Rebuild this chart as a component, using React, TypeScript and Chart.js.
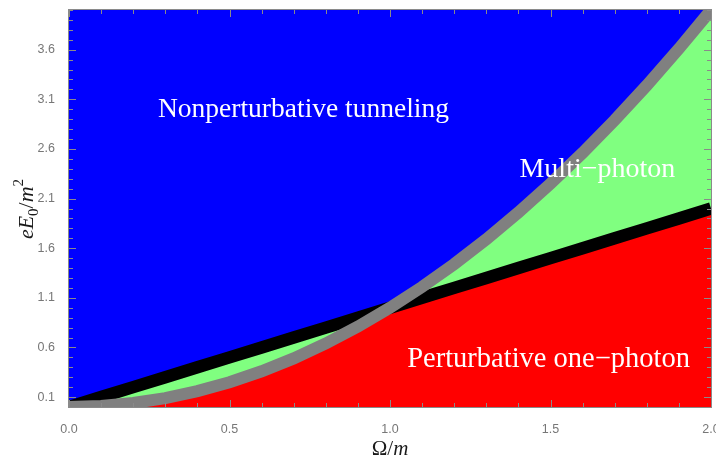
import React, { useEffect, useRef } from 'react';
import { Chart, registerables } from 'chart.js';

Chart.register(...registerables);

// Ω/m sample positions
const omegaValues = [0, 0.1, 0.2, 0.3, 0.4, 0.5, 0.6, 0.7, 0.8, 0.9, 1.0, 1.1, 1.2, 1.3, 1.4, 1.5, 1.6, 1.7, 1.8, 1.9, 2.0];
// one-photon threshold boundary (black band)
const onePhotonBoundary = [0, 0.1, 0.2, 0.3, 0.4, 0.5, 0.6, 0.7, 0.8, 0.9, 1.0, 1.1, 1.2, 1.3, 1.4, 1.5, 1.6, 1.7, 1.8, 1.9, 2.0];
// tunneling / multi-photon boundary (gray curve)
const tunnelingBoundary = [0, 0.01, 0.04, 0.09, 0.16, 0.25, 0.36, 0.49, 0.64, 0.81, 1.0, 1.21, 1.44, 1.69, 1.96, 2.25, 2.56, 2.89, 3.24, 3.61, 4.0];

const xTickValues = [0, 0.5, 1.0, 1.5, 2.0];
const xTickLabels = ['0.0', '0.5', '1.0', '1.5', '2.0'];
const yTickValues = [0.1, 0.6, 1.1, 1.6, 2.1, 2.6, 3.1, 3.6];
const yTickLabels = ['0.1', '0.6', '1.1', '1.6', '2.1', '2.6', '3.1', '3.6'];

const regionNames = ['Nonperturbative tunneling', 'Multi\u2212photon', 'Perturbative one\u2212photon'];
const regionAnchorX = [0.7305, 1.646, 1.494];
const regionAnchorY = [2.917, 2.317, 0.408];
const regionFontSizes = [27.5, 28, 28.5];

const lowerEdge = omegaValues.map((x, i) => ({ x, y: Math.min(onePhotonBoundary[i], tunnelingBoundary[i]) }));
const upperEdge = omegaValues.map((x, i) => ({ x, y: Math.max(onePhotonBoundary[i], tunnelingBoundary[i]) }));
const blackPts = omegaValues.map((x, i) => ({ x, y: onePhotonBoundary[i] }));
const grayPts = omegaValues.map((x, i) => ({ x, y: tunnelingBoundary[i] }));

type Piece = { t: string; font: string; dy?: number };

function drawPieces(ctx: CanvasRenderingContext2D, pieces: Piece[], cx: number, by: number) {
  let total = 0;
  const widths = pieces.map((p) => {
    ctx.font = p.font;
    const w = ctx.measureText(p.t).width;
    total += w;
    return w;
  });
  let x = cx - total / 2;
  ctx.textAlign = 'left';
  ctx.textBaseline = 'alphabetic';
  pieces.forEach((p, i) => {
    ctx.font = p.font;
    ctx.fillText(p.t, x, by + (p.dy || 0));
    x += widths[i];
  });
}

const decorPlugin = {
  id: 'decor',
  beforeDatasetsDraw(chart: any) {
    const { ctx, chartArea } = chart;
    ctx.save();
    ctx.fillStyle = '#0000ff';
    ctx.fillRect(chartArea.left, chartArea.top, chartArea.right - chartArea.left, chartArea.bottom - chartArea.top);
    ctx.restore();
  },
  afterDatasetsDraw(chart: any) {
    const { ctx, chartArea, scales } = chart;
    const xs = scales.x;
    const ys = scales.y;
    ctx.save();
    // region labels
    ctx.fillStyle = '#ffffff';
    ctx.textAlign = 'center';
    ctx.textBaseline = 'alphabetic';
    regionNames.forEach((name, i) => {
      ctx.font = regionFontSizes[i] + 'px "Liberation Serif"';
      ctx.fillText(name, xs.getPixelForValue(regionAnchorX[i]), ys.getPixelForValue(regionAnchorY[i]));
    });

    // frame
    const { left, right, top, bottom } = chartArea;
    ctx.strokeStyle = '#8a8a8a';
    ctx.lineWidth = 1;
    ctx.strokeRect(left - 0.5, top - 0.5, right - left + 1, bottom - top + 1);

    // inward ticks
    ctx.beginPath();
    for (let i = 0; i <= 20; i++) {
      const v = i * 0.1;
      const px = Math.round(xs.getPixelForValue(v)) + 0.5;
      const len = i % 5 === 0 ? 7 : 4;
      ctx.moveTo(px, bottom);
      ctx.lineTo(px, bottom - len);
      ctx.moveTo(px, top);
      ctx.lineTo(px, top + len);
    }
    for (let j = 0; j <= 40; j++) {
      const v = j * 0.1;
      const py = Math.round(ys.getPixelForValue(v)) + 0.5;
      const len = (j - 1) % 5 === 0 ? 7 : 4;
      ctx.moveTo(left, py);
      ctx.lineTo(left + len, py);
      ctx.moveTo(right, py);
      ctx.lineTo(right - len, py);
    }
    ctx.stroke();

    // axis titles
    ctx.fillStyle = '#1a1a1a';
    drawPieces(
      ctx,
      [
        { t: '\u03A9', font: '21px "Liberation Serif"' },
        { t: '/', font: '21px "Liberation Serif"' },
        { t: 'm', font: 'italic 21px "Liberation Serif"' },
      ],
      (left + right) / 2,
      455
    );
    ctx.save();
    ctx.translate(33, 209);
    ctx.rotate(-Math.PI / 2);
    drawPieces(
      ctx,
      [
        { t: 'e', font: 'italic 22px "Liberation Serif"' },
        { t: 'E', font: 'italic 22px "Liberation Serif"' },
        { t: '0', font: '15px "Liberation Serif"', dy: 5 },
        { t: '/', font: '22px "Liberation Serif"' },
        { t: 'm', font: 'italic 22px "Liberation Serif"' },
        { t: '2', font: '15px "Liberation Serif"', dy: -10 },
      ],
      0,
      0
    );
    ctx.restore();
    ctx.restore();
  },
};

export default function App() {
  const canvasRef = useRef<HTMLCanvasElement | null>(null);

  useEffect(() => {
    const canvas = canvasRef.current;
    if (!canvas) return;
    const tickFont = { family: '"Liberation Sans", Arial, sans-serif', size: 12.5 };
    const chart = new Chart(canvas, {
      type: 'line',
      data: {
        datasets: [
          {
            label: 'tunneling boundary',
            data: grayPts,
            borderColor: '#808080',
            borderWidth: 12,
            pointRadius: 0,
            fill: false,
            borderCapStyle: 'butt',
          },
          {
            label: 'one-photon boundary',
            data: blackPts,
            borderColor: '#000000',
            borderWidth: 12.5,
            pointRadius: 0,
            fill: false,
            borderCapStyle: 'butt',
          },
          {
            label: 'multi-photon',
            data: upperEdge,
            borderWidth: 0,
            borderColor: 'rgba(0,0,0,0)',
            backgroundColor: '#80ff80',
            pointRadius: 0,
            fill: 3,
          },
          {
            label: 'perturbative',
            data: lowerEdge,
            borderWidth: 0,
            borderColor: 'rgba(0,0,0,0)',
            backgroundColor: '#ff0000',
            pointRadius: 0,
            fill: 'start',
          },
        ],
      },
      options: {
        responsive: false,
        animation: false,
        events: [],
        layout: { padding: { top: 10, right: 5, left: 0, bottom: 0 } },
        plugins: {
          legend: { display: false },
          tooltip: { enabled: false },
          title: { display: false },
        },
        scales: {
          x: {
            type: 'linear',
            min: 0,
            max: 2,
            grid: { display: false },
            border: { display: false },
            afterBuildTicks: (s: any) => {
              s.ticks = xTickValues.map((v) => ({ value: v }));
            },
            afterFit: (s: any) => {
              s.height = 52;
              s.paddingLeft = 0;
              s.paddingRight = 0;
            },
            ticks: {
              padding: 7,
              color: '#777777',
              font: tickFont,
              maxRotation: 0,
              autoSkip: false,
              callback: (_v: any, i: number) => xTickLabels[i],
            },
          },
          y: {
            type: 'linear',
            min: 0,
            max: 4,
            grid: { display: false },
            border: { display: false },
            afterBuildTicks: (s: any) => {
              s.ticks = yTickValues.map((v) => ({ value: v }));
            },
            afterFit: (s: any) => {
              s.width = 69;
              s.paddingTop = 0;
              s.paddingBottom = 0;
            },
            ticks: {
              padding: 6,
              color: '#777777',
              font: tickFont,
              autoSkip: false,
              callback: (_v: any, i: number) => yTickLabels[i],
            },
          },
        },
      } as any,
      plugins: [decorPlugin],
    });
    return () => chart.destroy();
  }, []);

  return (
    <div style={{ position: 'fixed', left: 0, top: 0, width: 716, height: 459, background: '#ffffff' }}>
      <canvas ref={canvasRef} width={716} height={459} style={{ display: 'block' }} />
    </div>
  );
}
